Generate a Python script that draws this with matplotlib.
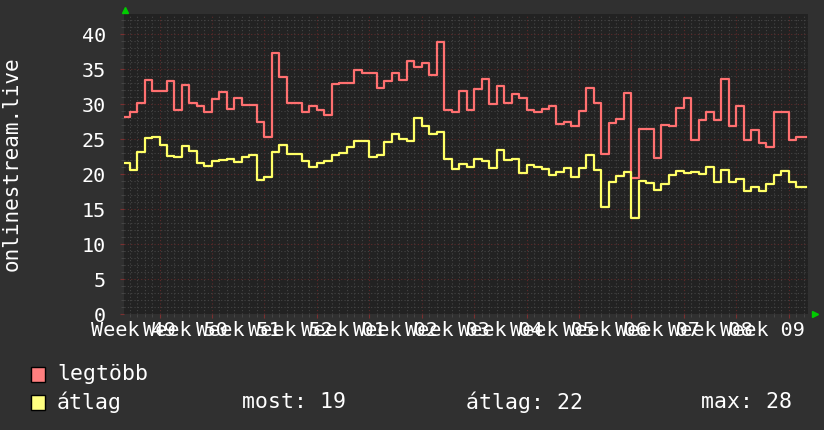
import numpy as np
import matplotlib
matplotlib.use("Agg")
import matplotlib.pyplot as plt
from matplotlib.patches import Rectangle

# ---- data (daily values; day 0 = start of week 50) ----
days = np.arange(-5, 87)
legtobb = [28.2, 28.8, 30.1, 33.5, 31.9,
           31.8, 33.3, 29.1, 32.7, 30.1, 29.7, 28.8,
           30.7, 31.7, 29.3, 30.8, 29.9, 29.9, 27.5,
           25.3, 37.3, 33.9, 30.1, 30.1, 28.9, 29.7,
           29.1, 28.4, 32.9, 33.0, 33.0, 34.8, 34.5,
           34.5, 32.3, 33.3, 34.4, 33.4, 36.2, 35.3,
           35.9, 34.2, 38.8, 29.1, 28.8, 31.9, 29.1,
           32.1, 33.6, 30.0, 32.6, 30.2, 31.5, 30.9,
           29.1, 28.9, 29.3, 29.7, 27.1, 27.5, 26.8,
           29.0, 32.3, 30.2, 22.9, 27.3, 27.9, 31.6,
           19.5, 26.4, 26.4, 22.3, 27.0, 26.8, 29.5,
           30.9, 24.8, 27.7, 28.8, 27.7, 33.6, 26.8,
           29.7, 24.8, 26.3, 24.5, 23.8, 28.9, 28.9,
           24.8, 25.3, 25.3]
atlag = [21.6, 20.6, 23.2, 25.2, 25.3,
         24.1, 22.6, 22.5, 24.0, 23.3, 21.6, 21.1,
         21.8, 22.0, 22.2, 21.7, 22.5, 22.7, 19.1,
         19.6, 23.2, 24.1, 22.8, 22.9, 21.8, 21.0,
         21.6, 21.9, 22.7, 23.0, 23.8, 24.7, 24.7,
         22.4, 22.7, 24.6, 25.7, 25.0, 24.7, 28.0,
         26.8, 25.7, 26.0, 22.2, 20.7, 21.4, 21.0,
         22.2, 21.9, 20.9, 23.5, 22.0, 22.2, 20.2,
         21.3, 21.0, 20.7, 19.8, 20.3, 20.9, 19.6,
         20.8, 22.7, 20.6, 15.3, 18.9, 19.7, 20.3,
         13.7, 19.0, 18.7, 17.7, 18.6, 19.9, 20.4,
         20.2, 20.3, 20.0, 21.0, 18.8, 20.6, 18.8,
         19.3, 17.6, 18.1, 17.6, 18.6, 19.8, 20.4,
         18.9, 18.2, 18.2]
data_end = 86.25
week_starts = np.arange(-7, 85, 7)
week_labels = ["Week 49", "Week 50", "Week 51", "Week 52", "Week 01", "Week 02",
               "Week 03", "Week 04", "Week 05", "Week 06", "Week 07", "Week 08",
               "Week 09"]
y_ticks = [0, 5, 10, 15, 20, 25, 30, 35, 40]
ylabel = "onlinestream.live"
legend_names = ["legtöbb", "átlag"]
stats = ["most: 19", "átlag: 22", "max: 28"]

# ---- style ----
BG = "#303030"
PLOT_BG = "#222222"
RED = "#ff7070"
YEL = "#ffff66"
FONT = "DejaVu Sans Mono"

W, H = 824, 430
fig = plt.figure(figsize=(W / 100, H / 100), dpi=100, facecolor=BG)
L, R, T, B = 124, 808, 14, 314
ax = fig.add_axes([L / W, 1 - B / H, (R - L) / W, (B - T) / H], facecolor=PLOT_BG)

xs = np.append(days, data_end)
ax.plot(xs, np.append(legtobb, legtobb[-1]), drawstyle="steps-post", color=RED, lw=1.6, zorder=3)
ax.plot(xs, np.append(atlag, atlag[-1]), drawstyle="steps-post", color=YEL, lw=1.6, zorder=3)

ax.set_xlim(-4.74, 86.58)
ax.set_ylim(0, 42.86)

ax.set_xticks(week_starts[1:])
ax.set_xticks(np.arange(-4, 87), minor=True)
ax.set_yticks(y_ticks)
ax.set_yticks(np.arange(0, 43), minor=True)
ax.set_xticklabels([])
ax.set_yticklabels([str(v) for v in y_ticks], fontfamily=FONT, fontsize=14.5, color="white")

ax.grid(which="minor", color="#444444", linestyle=(0, (1, 2)), lw=0.8, zorder=1)
ax.grid(which="major", color="#5e2a2a", linestyle=(0, (1, 2)), lw=0.8, zorder=2)
ax.tick_params(which="major", length=3, color="#7a3030", pad=10)
ax.tick_params(which="minor", length=2, color="#4a4a4a")
for s in ax.spines.values():
    s.set_visible(False)

for ws, lab in zip(week_starts, week_labels):
    ax.text(ws + 3.5, -0.055, lab, transform=ax.get_xaxis_transform(), ha="center", va="center",
            fontfamily=FONT, fontsize=14.5, color="white", clip_on=False)

fig.text(12 / W, 1 - 164 / H, ylabel, rotation=90, ha="center", va="center",
         fontfamily=FONT, fontsize=15, color="white")

# axis arrows
ax.plot([0.002], [1.013], marker="^", color="#00cc00", markersize=5, transform=ax.transAxes, clip_on=False)
ax.plot([1.01], [0], marker=">", color="#00cc00", markersize=5, transform=ax.transAxes, clip_on=False)

# legend
def fx(px):
    return px / W

def fy(py):
    return 1 - py / H

for (name, col, yc) in [(legend_names[0], "#ff7f7f", 374), (legend_names[1], "#ffff80", 402)]:
    fig.add_artist(Rectangle((fx(31), fy(yc + 7.5)), 14 / W, 15 / H, facecolor=col,
                             edgecolor="black", lw=1, transform=fig.transFigure))
    fig.text(fx(57), fy(yc), name, ha="left", va="center", fontfamily=FONT, fontsize=15.5, color="white")

for txt, xp in zip(stats, [242, 466, 701]):
    fig.text(fx(xp), fy(402), txt, ha="left", va="center", fontfamily=FONT, fontsize=15.5, color="white")

fig.savefig("out.png", dpi=100, facecolor=BG)
